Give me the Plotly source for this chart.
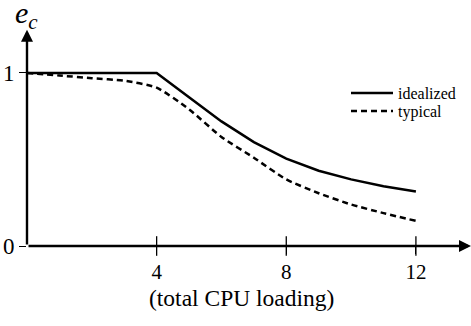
import plotly.graph_objects as go

# Data
ideal_x = [0, 4, 5, 6, 7, 8, 9, 10, 11, 12]
ideal_y = [1.0, 1.0, 0.86, 0.72, 0.60, 0.505, 0.435, 0.385, 0.345, 0.315]
typ_x = [0, 1, 2, 3, 4, 5, 6, 7, 8, 9, 10, 11, 12]
typ_y = [1.0, 0.985, 0.97, 0.955, 0.915, 0.79, 0.63, 0.51, 0.385, 0.305, 0.24, 0.19, 0.145]
x_ticks = [4, 8, 12]
x_ticklabels = ["4", "8", "12"]
y_ticks = [0, 1]
y_ticklabels = ["0", "1"]

FONT = "Liberation Serif, Times New Roman, serif"
XMAX = 13.7
YMAX = 1.306
W, H = 471, 326
ML, MR, MT, MB = 27, 0, 20, 80
PW, PH = W - ML - MR, H - MT - MB


def px_to_paper(px, py):
    return (px - ML) / PW, (H - MB - py) / PH


fig = go.Figure()
fig.add_trace(go.Scatter(x=ideal_x, y=ideal_y, mode="lines", name="idealized",
                         legend="legend",
                         line=dict(color="black", width=2.5)))
fig.add_trace(go.Scatter(x=typ_x, y=typ_y, mode="lines", name="typical",
                         legend="legend2",
                         line=dict(color="black", width=2.5, dash="6px,4px", shape="spline", smoothing=0.6)))
# crossing tick marks on x axis
fig.add_trace(go.Scatter(x=x_ticks, y=[0] * len(x_ticks), mode="markers", showlegend=False,
                         hoverinfo="skip", cliponaxis=False,
                         marker=dict(symbol="line-ns", size=14, line=dict(color="black", width=1.3))))

# axis lines with arrows
fig.add_annotation(x=XMAX, y=0, ax=0, ay=0, xref="x", yref="y", axref="x", ayref="y",
                   showarrow=True, arrowhead=2, arrowsize=1, arrowwidth=2.4, arrowcolor="black", text="")
fig.add_annotation(x=0, y=1.25, ax=0, ay=0, xref="x", yref="y", axref="x", ayref="y",
                   showarrow=True, arrowhead=2, arrowsize=1, arrowwidth=2.4, arrowcolor="black", text="")

ex, ey = px_to_paper(26, 15)
fig.add_annotation(x=ex, y=ey, xref="paper", yref="paper", showarrow=False,
                   text="<i>e<sub>c</sub></i>", font=dict(family=FONT, size=30, color="black"),
                   xanchor="center", yanchor="middle")
tx, ty = px_to_paper(241, 298)
fig.add_annotation(x=tx, y=ty, xref="paper", yref="paper", showarrow=False,
                   xanchor="center", yanchor="middle",
                   text="(total CPU loading)", font=dict(family=FONT, size=23.5, color="black"))

lx, ly1 = px_to_paper(346, 76)
_, ly2 = px_to_paper(346, 94)
leg_common = dict(x=lx, xanchor="left", yanchor="top", bgcolor="rgba(0,0,0,0)",
                  itemwidth=42, font=dict(family=FONT, size=16, color="black"))
fig.update_layout(
    width=W, height=H,
    margin=dict(l=ML, r=MR, t=MT, b=MB, autoexpand=False),
    paper_bgcolor="white", plot_bgcolor="white",
    font=dict(family=FONT, color="black"),
    showlegend=True,
    legend=dict(y=ly1, **leg_common),
    legend2=dict(y=ly2, **leg_common),
    xaxis=dict(range=[0, XMAX], showgrid=False, zeroline=False, showline=False, automargin=False,
               tickvals=x_ticks, ticktext=x_ticklabels, ticks="outside", ticklen=7,
               ticklabelstandoff=0,
               tickcolor="black", tickwidth=1.3, tickfont=dict(family=FONT, size=21, color="black")),
    yaxis=dict(range=[0, YMAX], showgrid=False, zeroline=False, showline=False, automargin=False,
               tickvals=y_ticks, ticktext=y_ticklabels, ticks="outside", ticklen=7,
               tickcolor="black", tickwidth=1.3, tickfont=dict(family=FONT, size=23, color="black")),
)
fig.write_html("out.html", config={"displayModeBar": False},
               post_script="document.body.style.margin='0';")
